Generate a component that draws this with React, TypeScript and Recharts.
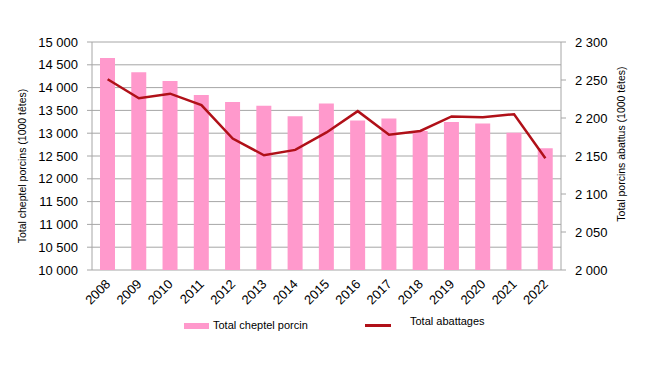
import {
  ComposedChart,
  Bar,
  Line,
  XAxis,
  YAxis,
  CartesianGrid,
  Legend,
} from "recharts";

const years = ["2008", "2009", "2010", "2011", "2012", "2013", "2014", "2015", "2016", "2017", "2018", "2019", "2020", "2021", "2022"];
// Total cheptel porcin (1000 têtes)
const cheptel = [14650, 14335, 14145, 13840, 13685, 13600, 13370, 13650, 13280, 13320, 13050, 13245, 13210, 13010, 12670];
// Total abattages (1000 têtes)
const abattages = [2251, 2226, 2232, 2217, 2173, 2151, 2158, 2181, 2209, 2178, 2183, 2202, 2201, 2205, 2147];

const leftTicks = [10000, 10500, 11000, 11500, 12000, 12500, 13000, 13500, 14000, 14500, 15000];
const rightTicks = [2000, 2050, 2100, 2150, 2200, 2250, 2300];
const edgeTicks = [0, 1, 2, 3, 4, 5, 6, 7, 8, 9, 10, 11, 12, 13, 14, 15];

const chartData = years.map((year, i) => ({
  year,
  cheptel: cheptel[i],
  abattages: abattages[i],
}));

const PINK = "#ff99cc";
const RED = "#b01018";
const GRID = "#a6a6a6";
const FONT = "'Liberation Sans', Arial, sans-serif";

const fmt = (v: number) => String(v).replace(/\B(?=(\d{3})+(?!\d))/g, " ");

function YearTick(props: any) {
  const { x, y, payload } = props;
  return (
    <g transform={`translate(${x + 3.5},${y + 6.8})`}>
      <text
        x={0}
        y={0}
        textAnchor="end"
        fill="#000"
        fontSize={13}
        fontFamily={FONT}
        transform="rotate(-45)"
      >
        {payload.value}
      </text>
    </g>
  );
}

// rotated axis title, centred on the axis with a small vertical shift
function axisTitle(text: string, side: "left" | "right", shift: number) {
  return (props: any) => {
    const vb = props.viewBox;
    const cx = side === "left" ? vb.x + 10 : vb.x + vb.width - 10;
    const cy = vb.y + vb.height / 2 + shift;
    return (
      <text
        x={cx}
        y={cy}
        textAnchor="middle"
        dominantBaseline="central"
        fontSize={10.5}
        fontFamily={FONT}
        fill="#000"
        transform={`rotate(-90, ${cx}, ${cy})`}
      >
        {text}
      </text>
    );
  };
}

function renderLegend() {
  return (
    <div style={{ position: "relative", height: 20, fontFamily: FONT, fontSize: 11, color: "#000" }}>
      <div style={{ position: "absolute", left: 184, top: 7, width: 25, height: 6, background: PINK }} />
      <div style={{ position: "absolute", left: 213, top: 3 }}>Total cheptel porcin</div>
      <div style={{ position: "absolute", left: 365, top: 8, width: 26, height: 3, background: RED }} />
      <div style={{ position: "absolute", left: 410, top: -1 }}>Total abattages</div>
    </div>
  );
}

export default function App() {
  return (
    <div style={{ position: "absolute", left: 0, top: 0, width: 650, height: 366, background: "#fff" }}>
      <ComposedChart
        width={650}
        height={366}
        data={chartData}
        margin={{ top: 42, right: 19, left: 12, bottom: 26 }}
        barSize={15}
      >
        <CartesianGrid yAxisId="left" vertical={false} stroke={GRID} strokeWidth={1} />
        <XAxis
          xAxisId="edges"
          type="number"
          domain={[0, 15]}
          ticks={edgeTicks}
          tick={false}
          tickSize={5}
          height={0}
          stroke={GRID}
          allowDataOverflow
        />
        <XAxis
          xAxisId="cat"
          dataKey="year"
          interval={0}
          height={50}
          axisLine={false}
          tickLine={false}
          tick={<YearTick />}
        />
        <YAxis
          yAxisId="left"
          domain={[10000, 15000]}
          ticks={leftTicks}
          interval={0}
          tickFormatter={fmt}
          width={80}
          stroke={GRID}
          tickSize={5}
          tickMargin={9}
          tick={{ fill: "#000", fontSize: 13, fontFamily: FONT }}
          label={{ content: axisTitle("Total cheptel porcins (1000 têtes)", "left", 10) }}
        />
        <YAxis
          yAxisId="right"
          orientation="right"
          domain={[2000, 2300]}
          ticks={rightTicks}
          interval={0}
          tickFormatter={fmt}
          width={70}
          stroke={GRID}
          tickSize={5}
          tickMargin={9}
          tick={{ fill: "#000", fontSize: 13, fontFamily: FONT }}
          label={{ content: axisTitle("Total porcins abattus (1000 têtes)", "right", -12) }}
        />
        <Legend
          content={renderLegend}
          wrapperStyle={{ position: "absolute", left: 0, top: 316, width: 650 }}
        />
        <Bar
          xAxisId="cat"
          yAxisId="left"
          dataKey="cheptel"
          name="Total cheptel porcin"
          fill={PINK}
          isAnimationActive={false}
        />
        <Line
          xAxisId="cat"
          yAxisId="right"
          dataKey="abattages"
          name="Total abattages"
          type="linear"
          stroke={RED}
          strokeWidth={2.5}
          dot={false}
          activeDot={false}
          isAnimationActive={false}
        />
      </ComposedChart>
    </div>
  );
}
